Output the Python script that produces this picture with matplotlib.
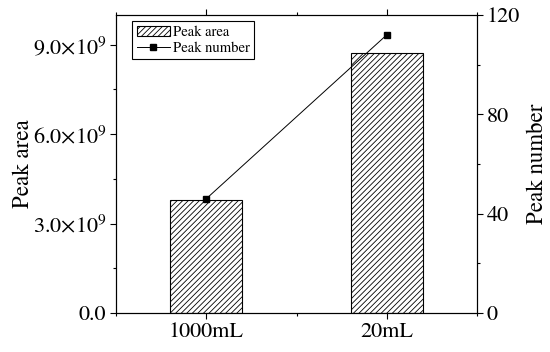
import numpy as np
import matplotlib.pyplot as plt
from matplotlib.ticker import MultipleLocator, FuncFormatter

plt.rcParams["font.family"] = ["STIXGeneral", "DejaVu Serif"]
plt.rcParams["mathtext.fontset"] = "stix"
plt.rcParams["hatch.linewidth"] = 0.6

# data
categories  = ["1000mL", "20mL"]
peak_area   = [3.80e9, 8.71e9]
peak_number = [46, 112]


def sci_fmt(v, pos):
    if v == 0:
        return "0.0"
    e = int(np.floor(np.log10(abs(v))))
    m = v / 10 ** e
    return r"%.1f$\times$10$^{%d}$" % (m, e)


fig = plt.figure(figsize=(5.5, 3.52), dpi=100)
ax = fig.add_axes([116 / 550, 1 - 313 / 352, 361 / 550, 298 / 352])
x = np.arange(len(categories))

bars = ax.bar(x, peak_area, width=0.4, color="white", edgecolor="black",
              hatch="//////", lw=0.8, label="Peak area", zorder=2)
ax.set_xlim(-0.5, 1.5)
ax.set_ylim(0, 1.0e10)
ax.set_xticks(x)
ax.set_xticklabels(categories)
ax.xaxis.set_minor_locator(MultipleLocator(0.5))
ax.yaxis.set_major_locator(MultipleLocator(3e9))
ax.yaxis.set_minor_locator(MultipleLocator(1.5e9))
ax.yaxis.set_major_formatter(FuncFormatter(sci_fmt))
ax.tick_params(axis="both", which="major", direction="out", length=4,
               labelsize=16, width=0.8, pad=3)
ax.tick_params(axis="both", which="minor", direction="out", length=2.5,
               width=0.8)
ax.tick_params(axis="x", which="both", top=True)
ax.set_ylabel("Peak area", fontsize=16.5, labelpad=-1)
for s in ax.spines.values():
    s.set_linewidth(0.8)

ax2 = ax.twinx()
line, = ax2.plot(x, peak_number, color="black", lw=0.7, marker="s",
                 ms=4, label="Peak number")
ax2.set_ylim(0, 120)
ax2.yaxis.set_major_locator(MultipleLocator(40))
ax2.yaxis.set_minor_locator(MultipleLocator(20))
ax2.tick_params(axis="y", which="major", direction="out", length=4,
                labelsize=16, width=0.8, pad=3)
ax2.tick_params(axis="y", which="minor", direction="out", length=2.5,
                width=0.8)
ax2.set_ylabel("Peak number", fontsize=16.5, labelpad=5)

leg = ax.legend([bars, line], ["Peak area", "Peak number"], loc="upper left",
                bbox_to_anchor=(0.045, 0.98), fontsize=10.5, frameon=True,
                fancybox=False, edgecolor="black", framealpha=1,
                borderpad=0.3, handlelength=2.3, handletextpad=0.2,
                labelspacing=0.2, borderaxespad=0)
leg.get_frame().set_linewidth(0.8)

plt.savefig("out.png", dpi=100)
